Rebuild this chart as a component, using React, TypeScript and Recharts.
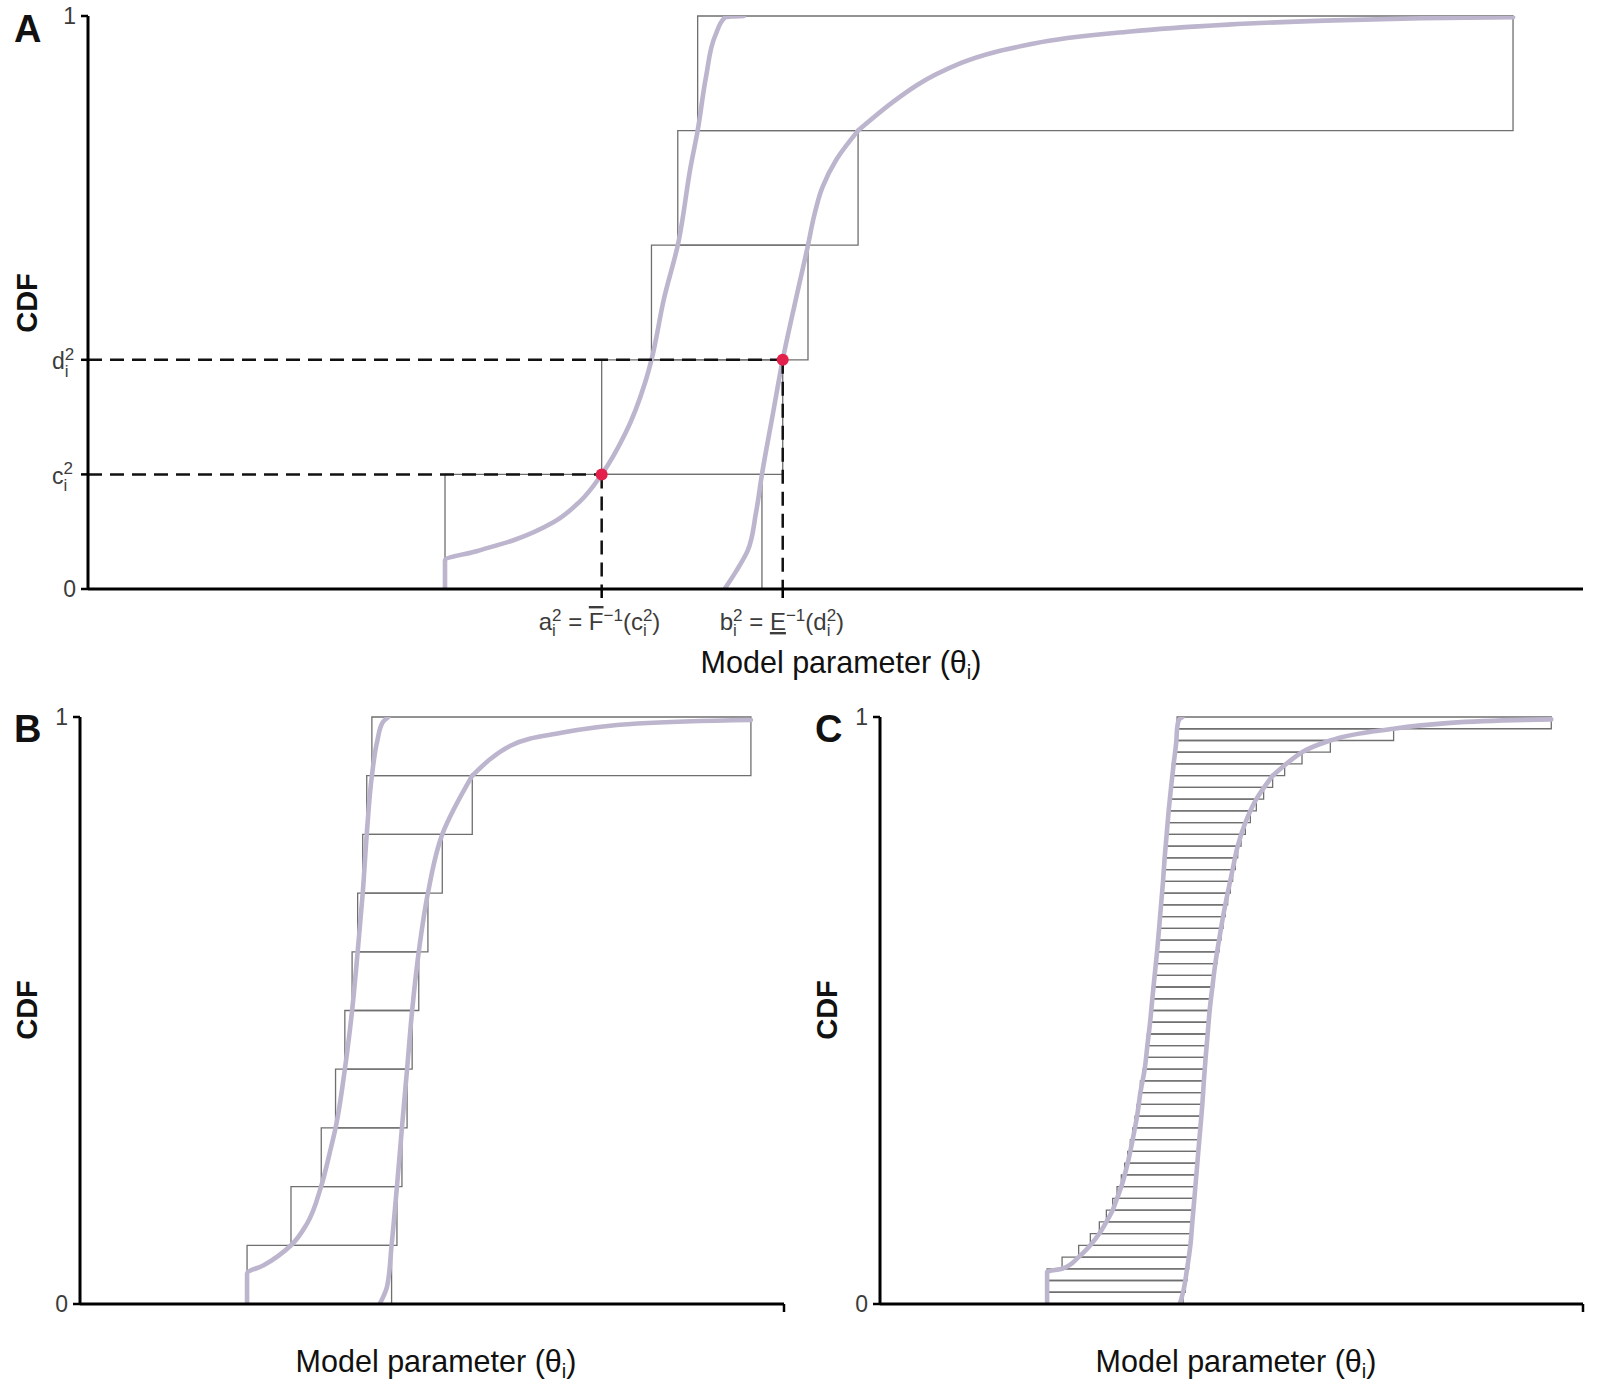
import React from "react";
import { LineChart, Line, XAxis, YAxis, ReferenceArea, ReferenceLine, ReferenceDot } from "recharts";

const FONT = "'Liberation Sans', Arial, Helvetica, sans-serif";
const CURVE = "#bcb5cd";
const BOX = "#6f6f6f";
const INK = "#111";
const TICK_INK = "#3c3c3c";

// x is on an unlabelled 0-100 scale; y is cumulative probability

// ---- panel A: 5 focal elements ----
const aLevels = [0, 0.2, 0.4, 0.6, 0.8, 1];
const aBoxLeft = [23.88, 34.36, 37.69, 39.45, 40.78];
const aBoxRight = [45.08, 46.47, 48.16, 51.51, 95.32];
const aUpperCdf: [number, number][] = [
  [23.88, 0], [23.88, 0.05], [25.99, 0.066], [28.55, 0.086], [31.1, 0.116], [32.91, 0.153],
  [34.36, 0.2], [35.97, 0.273], [37.26, 0.36], [37.69, 0.4], [38.53, 0.507], [39.45, 0.6],
  [40.33, 0.74], [40.78, 0.8], [41.34, 0.894], [41.99, 0.968], [42.63, 0.998], [43.88, 1],
];
const aLowerCdf: [number, number][] = [
  [42.58, 0], [43.4, 0.033], [44.11, 0.066], [44.68, 0.133], [45.08, 0.2], [45.82, 0.307],
  [46.47, 0.4], [47.36, 0.507], [48.16, 0.6], [48.56, 0.65], [49.11, 0.7], [50.07, 0.75],
  [51.51, 0.8], [53.85, 0.85], [55.49, 0.88], [58.41, 0.918], [63.28, 0.952], [69.75, 0.973],
  [76.24, 0.985], [82.72, 0.992], [89.21, 0.996], [95.32, 0.998],
];
const aYTicks = [0, 0.2, 0.4, 1];
const aYTickLabels = ["0", "c", "d", "1"];
const aXTicks = [34.36, 46.47];

// ---- panel B: 10 focal elements ----
const bLevels = [0, 0.1, 0.2, 0.3, 0.4, 0.5, 0.6, 0.7, 0.8, 0.9, 1];
const bBoxLeft = [23.73, 29.97, 34.27, 36.3, 37.62, 38.65, 39.44, 40.16, 40.73, 41.46];
const bBoxRight = [44.26, 45.02, 45.73, 46.46, 47.18, 48.12, 49.42, 51.46, 55.72, 95.3];
const bUpperCdf: [number, number][] = [
  [23.73, 0], [23.73, 0.052], [26.09, 0.066], [29.98, 0.1], [32.25, 0.137], [34.24, 0.2],
  [35.56, 0.262], [36.3, 0.3], [37.62, 0.4], [38.65, 0.5], [39.44, 0.6], [40.16, 0.7],
  [40.73, 0.8], [41.46, 0.9], [42.24, 0.96], [42.95, 0.99], [43.8, 1],
];
const bLowerCdf: [number, number][] = [
  [42.56, 0], [43.62, 0.03], [44.26, 0.1], [45.02, 0.2], [45.73, 0.3], [46.46, 0.4],
  [47.18, 0.5], [48.12, 0.6], [49.42, 0.7], [51.46, 0.8], [55.72, 0.9], [58.24, 0.928],
  [61.14, 0.951], [68.37, 0.973], [79.24, 0.989], [95.3, 0.995],
];

// ---- panel C: 50 focal elements ----
const cLevels = [
  0, 0.02, 0.04, 0.06, 0.08, 0.1, 0.12, 0.14, 0.16, 0.18, 0.2, 0.22, 0.24, 0.26, 0.28, 0.3,
  0.32, 0.34, 0.36, 0.38, 0.4, 0.42, 0.44, 0.46, 0.48, 0.5, 0.52, 0.54, 0.56, 0.58, 0.6, 0.62,
  0.64, 0.66, 0.68, 0.7, 0.72, 0.74, 0.76, 0.78, 0.8, 0.82, 0.84, 0.86, 0.88, 0.9, 0.92, 0.94,
  0.96, 0.98, 1,
];
const cBoxLeft = [
  23.77, 23.77, 23.77, 25.9, 28.26, 29.92, 31.2, 32.2, 33.1, 33.72, 34.33, 34.8, 35.23, 35.61,
  35.94, 36.28, 36.57, 36.79, 37.04, 37.42, 37.65, 37.85, 38.03, 38.22, 38.42, 38.6, 38.74,
  38.93, 39.07, 39.27, 39.41, 39.55, 39.7, 39.84, 39.98, 40.12, 40.26, 40.41, 40.49, 40.63,
  40.78, 40.92, 41.06, 41.2, 41.4, 41.58, 41.77, 42.01, 42.16, 42.26,
];
const cBoxRight = [
  43.11, 43.44, 43.68, 43.91, 44.15, 44.29, 44.43, 44.57, 44.72, 44.86, 45.0, 45.14, 45.28,
  45.43, 45.57, 45.71, 45.85, 45.97, 46.07, 46.18, 46.32, 46.47, 46.61, 46.75, 46.89, 47.09,
  47.28, 47.46, 47.7, 47.94, 48.23, 48.51, 48.8, 49.12, 49.45, 49.84, 50.16, 50.55, 50.88,
  51.36, 51.97, 52.68, 53.53, 54.57, 55.85, 57.56, 60.03, 64.06, 73.06, 95.49,
];
const cUpperCdf: [number, number][] = [
  [23.77, 0], [23.77, 0.055], [25.9, 0.06], [28.26, 0.08], [29.92, 0.1], [31.2, 0.12],
  [32.2, 0.14], [33.1, 0.16], [33.72, 0.18], [34.33, 0.2], [35.23, 0.24], [35.94, 0.28],
  [36.57, 0.32], [37.04, 0.36], [37.65, 0.4], [38.03, 0.44], [38.42, 0.48], [38.74, 0.52],
  [39.07, 0.56], [39.41, 0.6], [39.7, 0.64], [39.98, 0.68], [40.26, 0.72], [40.49, 0.76],
  [40.78, 0.8], [41.06, 0.84], [41.4, 0.88], [41.77, 0.92], [42.16, 0.96], [42.26, 0.98],
  [42.51, 0.995], [43.01, 1],
];
const cLowerCdf: [number, number][] = [
  [42.65, 0], [43.11, 0.02], [43.68, 0.06], [44.15, 0.1], [44.43, 0.14], [44.72, 0.18],
  [45.0, 0.22], [45.28, 0.26], [45.57, 0.3], [45.85, 0.34], [46.07, 0.38], [46.32, 0.42],
  [46.61, 0.46], [46.89, 0.5], [47.28, 0.54], [47.7, 0.58], [48.23, 0.62], [48.8, 0.66],
  [49.45, 0.7], [50.16, 0.74], [50.88, 0.78], [51.97, 0.82], [53.53, 0.86], [55.85, 0.9],
  [60.03, 0.94], [64.06, 0.96], [73.06, 0.98], [81.12, 0.99], [95.49, 0.996],
];

const toPoints = (arr: [number, number][]) => arr.map(([x, y]) => ({ x, y }));

const boxAreas = (id: string, levels: number[], left: number[], right: number[]) =>
  left.map((x1, i) => (
    <ReferenceArea
      key={`${id}-${i}`}
      x1={x1}
      x2={right[i]}
      y1={levels[i]}
      y2={levels[i + 1]}
      fill="none"
      fillOpacity={0}
      stroke={BOX}
      strokeWidth={1.3}
      ifOverflow="visible"
    />
  ));

const curve = (id: string, arr: [number, number][], type: "monotoneX" | "monotoneY" = "monotoneY") => (
  <Line
    key={id}
    data={toPoints(arr)}
    dataKey="y"
    type={type}
    stroke={CURVE}
    strokeWidth={4.6}
    strokeLinecap="round"
    dot={false}
    activeDot={false}
    isAnimationActive={false}
  />
);

// steep part is smoothed along y, the flat tail along x
const splitCurve = (id: string, arr: [number, number][], at: number) => [
  curve(`${id}-lo`, arr.filter((p) => p[1] <= at), "monotoneY"),
  curve(`${id}-hi`, arr.filter((p) => p[1] >= at), "monotoneX"),
];

const axisLine = { stroke: "#000", strokeWidth: 3 };
const tickLine = { stroke: "#000", strokeWidth: 2.5 };

function plainYTick(props: any) {
  const { x, y, payload } = props;
  return (
    <text x={x - 5} y={y + 8} textAnchor="end" fontSize={23} fontFamily={FONT} fill={TICK_INK}>
      {String(payload.value)}
    </text>
  );
}

function aYTick(props: any) {
  const { x, y, payload } = props;
  const label = aYTickLabels[aYTicks.indexOf(payload.value)];
  if (label === "0" || label === "1") return plainYTick(props);
  return (
    <text x={x - 29} y={y + 9.5} fontSize={23} fontFamily={FONT} fill={TICK_INK}>
      {label}
      <tspan fontSize={17} dy={7.5}>i</tspan>
      <tspan fontSize={17} dx={-3.8} dy={-17}>2</tspan>
    </text>
  );
}

function aXTick(props: any) {
  const { x, y, payload } = props;
  const first = payload.value === aXTicks[0];
  return (
    <text x={x - 63} y={y + 32} fontSize={24} fontFamily={FONT} fill={TICK_INK} style={{ whiteSpace: "pre" }}>
      {first ? "a" : "b"}
      <tspan fontSize={17} dy={6}>i</tspan>
      <tspan fontSize={17} dx={-3.8} dy={-15.5}>2</tspan>
      <tspan dy={9.5}>{" = "}</tspan>
      <tspan style={{ textDecoration: first ? "overline" : "underline" }}>{first ? "F" : "E"}</tspan>
      <tspan fontSize={17} dy={-9}>−1</tspan>
      <tspan dy={9}>{first ? "(c" : "(d"}</tspan>
      <tspan fontSize={17} dy={6}>i</tspan>
      <tspan fontSize={17} dx={-3.8} dy={-15.5}>2</tspan>
      <tspan dy={9.5}>)</tspan>
    </text>
  );
}

const noTick = () => <g />;

function ParamTitle({ cx, y }: { cx: number; y: number }) {
  return (
    <text x={cx} y={y} textAnchor="middle" fontSize={30.5} fontFamily={FONT} fill={INK}>
      Model parameter (θ
      <tspan fontSize={20} dy={6}>i</tspan>
      <tspan dy={-6}>)</tspan>
    </text>
  );
}

function CdfTitle({ x, cy }: { x: number; cy: number }) {
  return (
    <text x={x} y={cy} transform={`rotate(-90 ${x} ${cy})`} textAnchor="middle" fontSize={29} fontWeight="bold" fontFamily={FONT} fill={INK}>
      CDF
    </text>
  );
}

function PanelLetter({ x, y, children }: { x: number; y: number; children: string }) {
  return (
    <text x={x} y={y} fontSize={38} fontWeight="bold" fontFamily={FONT} fill={INK}>
      {children}
    </text>
  );
}

export default function App() {
  const a = aBoxLeft[1];
  const b = aBoxRight[1];
  const c = aLevels[1];
  const d = aLevels[2];
  return (
    <div style={{ position: "absolute", left: 0, top: 0, width: 1600, height: 1400, background: "#fff" }}>
      <div style={{ position: "absolute", left: 0, top: 0 }}>
        <LineChart width={1600} height={700} margin={{ top: 16, right: 17, left: 28, bottom: 61 }}>
          <XAxis type="number" dataKey="x" domain={[0, 100]} ticks={aXTicks} interval={0} allowDataOverflow
            axisLine={axisLine} tickLine={tickLine} tickSize={9} tickMargin={0} tick={aXTick} height={50} />
          <YAxis type="number" domain={[0, 1]} ticks={aYTicks} interval={0} allowDataOverflow
            axisLine={axisLine} tickLine={tickLine} tickSize={7} tickMargin={0} tick={aYTick} width={60} />
          {boxAreas("a", aLevels, aBoxLeft, aBoxRight)}
          {curve("aU", aUpperCdf)}
          {splitCurve("aL", aLowerCdf, 0.8)}
          <ReferenceLine segment={[{ x: 0, y: c }, { x: a, y: c }]} stroke={INK} strokeWidth={2.5} strokeDasharray="14 8" />
          <ReferenceLine segment={[{ x: 0, y: d }, { x: b, y: d }]} stroke={INK} strokeWidth={2.5} strokeDasharray="14 8" />
          <ReferenceLine segment={[{ x: a, y: c }, { x: a, y: 0 }]} stroke={INK} strokeWidth={2.5} strokeDasharray="14 8" />
          <ReferenceLine segment={[{ x: b, y: d }, { x: b, y: 0 }]} stroke={INK} strokeWidth={2.5} strokeDasharray="14 8" />
          <ReferenceDot x={a} y={c} r={6} fill="#e3204b" stroke="none" />
          <ReferenceDot x={b} y={d} r={6} fill="#e3204b" stroke="none" />
        </LineChart>
      </div>

      <div style={{ position: "absolute", left: 0, top: 700 }}>
        <LineChart width={800} height={700} margin={{ top: 17, right: 16, left: 20, bottom: 66 }}>
          <XAxis type="number" dataKey="x" domain={[0, 100]} ticks={[100]} interval={0} allowDataOverflow
            axisLine={axisLine} tickLine={tickLine} tickSize={8} tick={noTick} height={30} />
          <YAxis type="number" domain={[0, 1]} ticks={[0, 1]} interval={0} allowDataOverflow
            axisLine={axisLine} tickLine={tickLine} tickSize={7} tickMargin={0} tick={plainYTick} width={60} />
          {boxAreas("b", bLevels, bBoxLeft, bBoxRight)}
          {curve("bU", bUpperCdf)}
          {splitCurve("bL", bLowerCdf, 0.9)}
        </LineChart>
      </div>

      <div style={{ position: "absolute", left: 800, top: 700 }}>
        <LineChart width={800} height={700} margin={{ top: 17, right: 17, left: 20, bottom: 66 }}>
          <XAxis type="number" dataKey="x" domain={[0, 100]} ticks={[100]} interval={0} allowDataOverflow
            axisLine={axisLine} tickLine={tickLine} tickSize={8} tick={noTick} height={30} />
          <YAxis type="number" domain={[0, 1]} ticks={[0, 1]} interval={0} allowDataOverflow
            axisLine={axisLine} tickLine={tickLine} tickSize={7} tickMargin={0} tick={plainYTick} width={60} />
          {curve("cU", cUpperCdf)}
          {splitCurve("cL", cLowerCdf, 0.9)}
          {boxAreas("c", cLevels, cBoxLeft, cBoxRight)}
        </LineChart>
      </div>

      <svg width={1600} height={1400} style={{ position: "absolute", left: 0, top: 0, pointerEvents: "none" }}>
        <PanelLetter x={14} y={42}>A</PanelLetter>
        <PanelLetter x={14} y={742}>B</PanelLetter>
        <PanelLetter x={815} y={742}>C</PanelLetter>
        <CdfTitle x={37} cy={303} />
        <CdfTitle x={37} cy={1010} />
        <CdfTitle x={837} cy={1010} />
        <ParamTitle cx={841} y={673} />
        <ParamTitle cx={436} y={1372} />
        <ParamTitle cx={1236} y={1372} />
      </svg>
    </div>
  );
}
